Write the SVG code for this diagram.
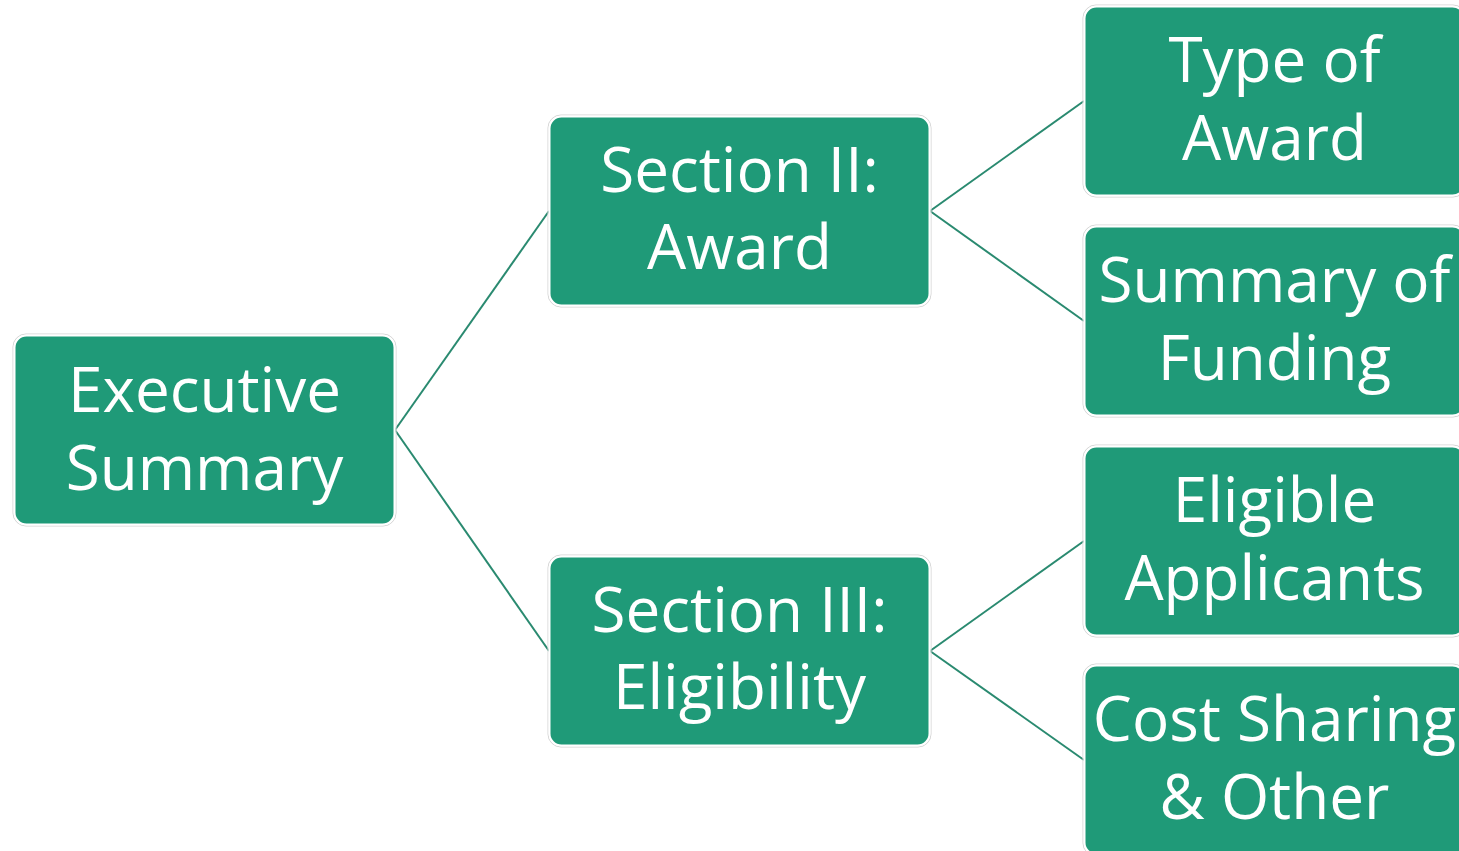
<svg xmlns="http://www.w3.org/2000/svg" width="1459" height="851" viewBox="0 0 1459 851">
<style>
.box{fill:#1f9a78;stroke:#ffffff;stroke-width:2}
.halo{fill:none;stroke:#d4d4d4;stroke-width:1}
.lbl{font-family:"Open Sans","Noto Sans",sans-serif;font-size:62px;fill:#ffffff;text-anchor:middle}
.con{stroke:#2a8a70;stroke-width:2;fill:none}
</style>
<rect width="1459" height="851" fill="#ffffff"/>
<g id="connectors">
<line class="con" x1="395" y1="430" x2="549" y2="211"/>
<line class="con" x1="395" y1="430" x2="549" y2="651"/>
<line class="con" x1="930" y1="211" x2="1084" y2="101"/>
<line class="con" x1="930" y1="211" x2="1084" y2="321"/>
<line class="con" x1="930" y1="651" x2="1084" y2="541"/>
<line class="con" x1="930" y1="651" x2="1084" y2="760"/>
</g>
<g id="executive-summary">
<rect class="halo" x="13" y="334" width="383" height="192" rx="13"/>
<rect class="box" x="14.5" y="335.5" width="380" height="189" rx="12"/>
<text class="lbl" x="204.5" y="412">Executive</text>
<text class="lbl" x="204.5" y="490">Summary</text>
</g>
<g id="section-ii">
<rect class="halo" x="548" y="115" width="383" height="192" rx="13"/>
<rect class="box" x="549.5" y="116.5" width="380" height="189" rx="12"/>
<text class="lbl" x="739.5" y="192">Section II:</text>
<text class="lbl" x="739.5" y="269">Award</text>
</g>
<g id="section-iii">
<rect class="halo" x="548" y="555" width="383" height="192" rx="13"/>
<rect class="box" x="549.5" y="556.5" width="380" height="189" rx="12"/>
<text class="lbl" x="739.5" y="632">Section III:</text>
<text class="lbl" x="739.5" y="709">Eligibility</text>
</g>
<g id="type-of-award">
<rect class="halo" x="1083" y="5" width="383" height="192" rx="13"/>
<rect class="box" x="1084.5" y="6.5" width="380" height="189" rx="12"/>
<text class="lbl" x="1274.5" y="82">Type of</text>
<text class="lbl" x="1274.5" y="160">Award</text>
</g>
<g id="summary-of-funding">
<rect class="halo" x="1083" y="225" width="383" height="192" rx="13"/>
<rect class="box" x="1084.5" y="226.5" width="380" height="189" rx="12"/>
<text class="lbl" x="1274.5" y="302">Summary of</text>
<text class="lbl" x="1274.5" y="380">Funding</text>
</g>
<g id="eligible-applicants">
<rect class="halo" x="1083" y="445" width="383" height="192" rx="13"/>
<rect class="box" x="1084.5" y="446.5" width="380" height="189" rx="12"/>
<text class="lbl" x="1274.5" y="522">Eligible</text>
<text class="lbl" x="1274.5" y="600">Applicants</text>
</g>
<g id="cost-sharing-other">
<rect class="halo" x="1083" y="664" width="383" height="192" rx="13"/>
<rect class="box" x="1084.5" y="665.5" width="380" height="189" rx="12"/>
<text class="lbl" x="1274.5" y="741">Cost Sharing</text>
<text class="lbl" x="1274.5" y="819">&amp; Other</text>
</g>
</svg>
